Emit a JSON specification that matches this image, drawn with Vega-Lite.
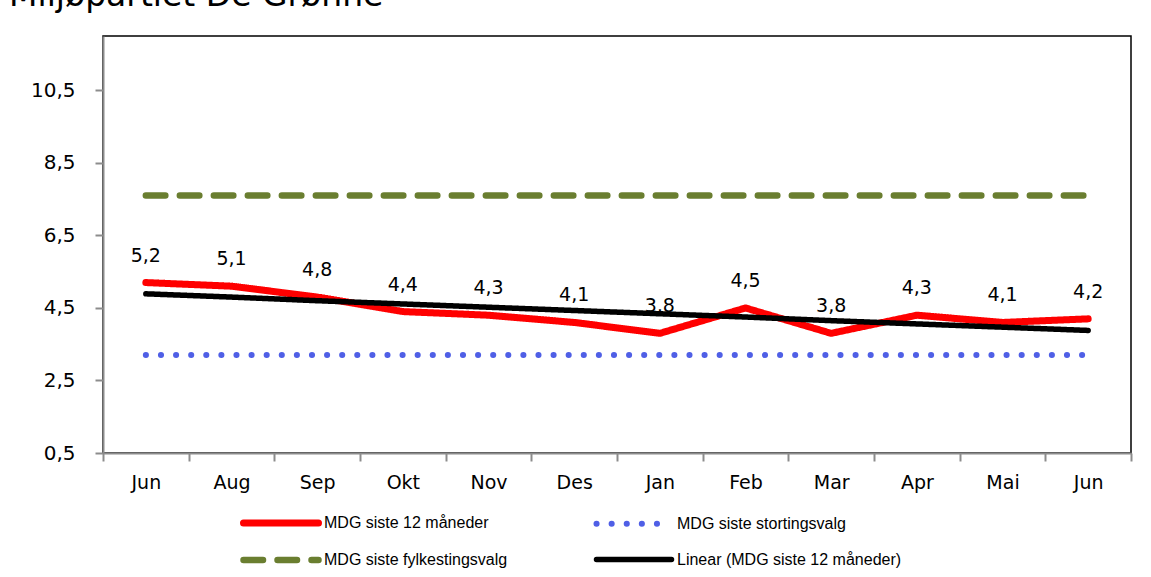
{
  "$schema": "https://vega.github.io/schema/vega-lite/v6.json",
  "width": 1028,
  "height": 417,
  "autosize": "none",
  "padding": {"left": 103, "top": 36, "right": 20, "bottom": 124},
  "title": {
    "text": "Miljøpartiet De Grønne",
    "anchor": "start",
    "frame": "group",
    "dx": -94,
    "offset": -3,
    "baseline": "alphabetic",
    "font": "DejaVu Sans",
    "fontSize": 33,
    "fontWeight": "normal",
    "color": "#000000"
  },
  "data": {
    "values": [
      {"m": "Jun", "mdg": 5.2, "storting": 3.2, "fylke": 7.6, "trend": 4.89},
      {"m": "Aug", "mdg": 5.1, "storting": 3.2, "fylke": 7.6, "trend": 4.80},
      {"m": "Sep", "mdg": 4.8, "storting": 3.2, "fylke": 7.6, "trend": 4.70},
      {"m": "Okt", "mdg": 4.4, "storting": 3.2, "fylke": 7.6, "trend": 4.61},
      {"m": "Nov", "mdg": 4.3, "storting": 3.2, "fylke": 7.6, "trend": 4.52},
      {"m": "Des", "mdg": 4.1, "storting": 3.2, "fylke": 7.6, "trend": 4.43},
      {"m": "Jan", "mdg": 3.8, "storting": 3.2, "fylke": 7.6, "trend": 4.34},
      {"m": "Feb", "mdg": 4.5, "storting": 3.2, "fylke": 7.6, "trend": 4.25},
      {"m": "Mar", "mdg": 3.8, "storting": 3.2, "fylke": 7.6, "trend": 4.15},
      {"m": "Apr", "mdg": 4.3, "storting": 3.2, "fylke": 7.6, "trend": 4.06},
      {"m": "Mai", "mdg": 4.1, "storting": 3.2, "fylke": 7.6, "trend": 3.97},
      {"m": "Jun_2", "mdg": 4.2, "storting": 3.2, "fylke": 7.6, "trend": 3.88}
    ]
  },
  "transform": [{"fold": ["mdg", "storting", "fylke", "trend"], "as": ["key", "v"]}],
  "encoding": {
    "x": {
      "field": "m",
      "type": "ordinal",
      "sort": null,
      "scale": {"type": "band", "paddingInner": 0, "paddingOuter": 0},
      "axis": {
        "title": null,
        "labelAngle": 0,
        "tickBand": "extent",
        "labelExpr": "replace(datum.label, '_2', '')",
        "domainColor": "#8c8c8c",
        "domainWidth": 2,
        "tickColor": "#8c8c8c",
        "tickWidth": 2,
        "tickSize": 8,
        "labelFont": "DejaVu Sans",
        "labelFontSize": 19,
        "labelColor": "#000000",
        "labelPadding": 12,
        "grid": false
      }
    },
    "y": {
      "field": "v",
      "type": "quantitative",
      "scale": {"domain": [0.5, 12], "nice": false, "zero": false},
      "axis": {
        "title": null,
        "values": [0.5, 2.5, 4.5, 6.5, 8.5, 10.5],
        "format": ".1f",
        "grid": false,
        "domainColor": "#8c8c8c",
        "domainWidth": 2,
        "tickColor": "#8c8c8c",
        "tickWidth": 2,
        "tickSize": 8,
        "labelFont": "DejaVu Sans",
        "labelFontSize": 20,
        "labelColor": "#000000",
        "labelPadding": 20
      }
    }
  },
  "layer": [
    {
      "mark": {"type": "line", "strokeCap": "round", "strokeJoin": "round"},
      "encoding": {
        "color": {
          "field": "key",
          "type": "nominal",
          "scale": {"domain": ["mdg", "fylke", "storting", "trend"], "range": ["#ff0000", "#6a7e30", "#4f5fe6", "#000000"]},
          "legend": {
            "orient": "none",
            "legendX": 137,
            "legendY": 476,
            "columns": 2,
            "title": null,
            "symbolType": "M-5,0H5",
            "symbolSize": 225,
            "symbolOffset": 30,
            "labelFont": "Liberation Sans",
            "labelFontSize": 16,
            "labelColor": "#000000",
            "labelOffset": 32,
            "labelLimit": 400,
            "columnPadding": 76,
            "rowPadding": 10,
            "labelExpr": "datum.label == 'mdg' ? 'MDG siste 12 måneder' : datum.label == 'storting' ? 'MDG siste stortingsvalg' : datum.label == 'fylke' ? 'MDG siste fylkestingsvalg' : 'Linear (MDG siste 12 måneder)'",
            "encode": {"symbols": {"update": {"strokeCap": {"value": "round"}}}}
          }
        },
        "strokeDash": {
          "field": "key",
          "type": "nominal",
          "scale": {"domain": ["mdg", "fylke", "storting", "trend"], "range": [[1, 0], [19.5, 14.5], [0.1, 15], [1, 0]]}
        },
        "strokeWidth": {
          "field": "key",
          "type": "nominal",
          "scale": {"domain": ["mdg", "fylke", "storting", "trend"], "range": [7, 5.5, 5, 3]}
        }
      }
    },
    {
      "transform": [{"filter": "datum.key == 'mdg'"}],
      "mark": {"type": "text", "dy": -27, "baseline": "middle", "font": "DejaVu Sans", "fontSize": 19, "color": "#000000"},
      "encoding": {
        "text": {"field": "v", "type": "quantitative", "format": ".1f"}
      }
    }
  ],
  "config": {
    "locale": {"number": {"decimal": ",", "thousands": " ", "grouping": [3], "currency": ["", " kr"]}},
    "view": {"stroke": "#000000", "strokeWidth": 1.5},
    "background": "#ffffff"
  }
}
